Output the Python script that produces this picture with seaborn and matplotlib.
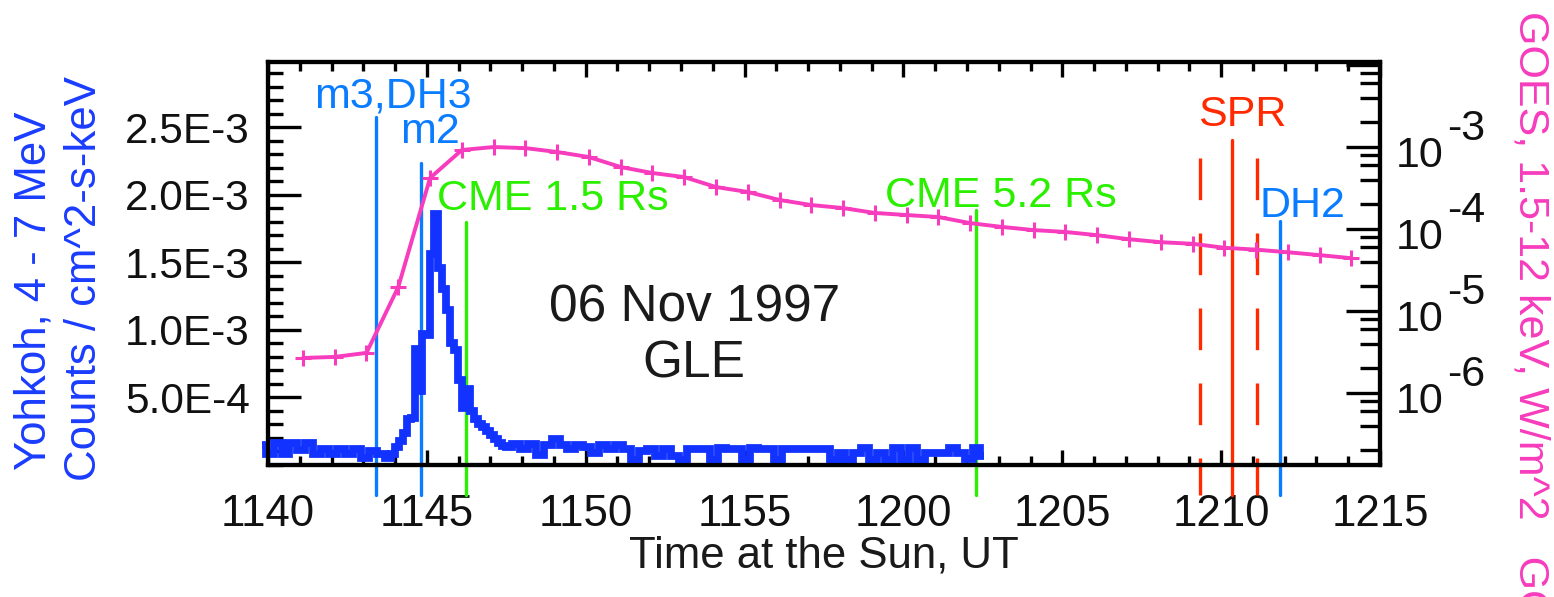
import numpy as np
import pandas as pd
import matplotlib
matplotlib.use("Agg")
import matplotlib.pyplot as plt
import matplotlib.ticker as mticker
import seaborn as sns

# ---------------- data ----------------
# time axis: minutes after 11:40 UT
x_tick_minutes = [0, 5, 10, 15, 20, 25, 30, 35]
x_tick_labels = ["1140", "1145", "1150", "1155", "1200", "1205", "1210", "1215"]
y_tick_values = [5e-4, 1e-3, 1.5e-3, 2e-3, 2.5e-3]
y_tick_labels = ["5.0E-4", "1.0E-3", "1.5E-3", "2.0E-3", "2.5E-3"]
goes_label_decades = [-3, -4, -5, -6]

# event times (minutes after 11:40)
t_m3_dh3 = 3.40
t_m2 = 4.82
t_cme15 = 6.23
t_cme52 = 22.28
t_spr = 30.34
t_spr_lo = 29.33
t_spr_hi = 31.13
t_dh2 = 31.85

# Yohkoh GRS 4-7 MeV counts (units of 1e-4 counts / cm^2-s-keV)
yoh_pre_t = np.linspace(-0.2, 3.8, 17)
yoh_pre = [1.5, 0.8, 1.6, 0.8, 1.6, 1.1, 1.6, 0.8, 1.2, 0.8, 1.2, 0.8, 1.2, 0.5, 1.0, 0.8, 0.5]
yoh_peak_t = np.linspace(3.925, 7.55, 30)
yoh_peak = [0.8, 1.3, 1.8, 2.4, 3.4, 3.5, 8.6, 5.5, 9.7, 9.6,
            15.6, 18.6, 14.6, 13.0, 11.5, 9.0, 8.5, 6.3, 4.2, 5.6,
            4.0, 3.4, 3.0, 2.8, 2.5, 2.2, 1.9, 1.6, 1.4, 1.3]
yoh_post_t = np.linspace(7.8, 22.55, 60)
yoh_post = [1.55, 1.2, 1.55, 0.75, 1.5, 1.9, 1.5, 1.2, 1.5, 1.3,
            0.9, 1.5, 1.2, 1.5, 1.2, 0.4, 1.0, 1.2, 0.65, 1.2,
            0.65, 0.4, 1.2, 1.2, 1.2, 0.4, 1.25, 1.2, 1.2, 0.4,
            1.25, 1.2, 1.2, 0.4, 1.2, 1.2, 1.2, 1.2, 1.2, 1.2,
            0.4, 0.9, 0.4, 0.9, 1.25, 0.4, 0.9, 0.4, 1.25, 0.4,
            1.25, 0.4, 0.9, 0.9, 0.9, 1.25, 0.9, 0.45, 1.25, 0.7]

# GOES 1.5-12 keV flux, W/m^2, one-minute points
goes_t = [1.1, 2.1, 3.1, 4.1, 5.1, 6.1, 7.1, 8.1, 9.1, 10.1, 11.1, 12.1,
          13.1, 14.1, 15.1, 16.1, 17.1, 18.1, 19.1, 20.1, 21.1, 22.1, 23.1,
          24.1, 25.1, 26.1, 27.1, 28.1, 29.1, 30.1, 31.1, 32.1, 33.1, 34.1]
goes_flux = [2.67e-6, 2.75e-6, 3.08e-6, 1.96e-5, 4.19e-4, 9.2e-4, 1.0e-3, 9.7e-4,
             8.7e-4, 7.55e-4, 5.7e-4, 4.82e-4, 4.3e-4, 3.25e-4, 2.83e-4, 2.26e-4,
             1.96e-4, 1.8e-4, 1.57e-4, 1.48e-4, 1.40e-4, 1.18e-4, 1.06e-4, 9.7e-5,
             9.2e-5, 8.4e-5, 7.5e-5, 6.9e-5, 6.6e-5, 5.9e-5, 5.6e-5, 5.2e-5,
             4.8e-5, 4.4e-5]

# ---------------- style ----------------
sns.set_theme(style="white")
plt.rcParams["font.family"] = ["Liberation Sans", "DejaVu Sans"]
plt.rcParams["lines.scale_dashes"] = False

C_BLUE_DATA = "#1233ff"
C_EVENT_BLUE = "#0a7cff"
C_GREEN = "#2af000"
C_RED = "#ff2a00"
C_PINK = "#f73cbd"
C_TEXT = "#111111"

fig = plt.figure(figsize=(15.54, 5.97), dpi=100)
fig.patch.set_facecolor("white")
ax = fig.add_axes([268 / 1554, 132 / 597, 1112 / 1554, 403 / 597])
ax2 = ax.twinx()

# ---------------- Yohkoh (left axis) ----------------
yoh = pd.DataFrame({
    "t": np.concatenate([yoh_pre_t, yoh_peak_t, yoh_post_t]),
    "c": np.concatenate([yoh_pre, yoh_peak, yoh_post]) * 1e-4,
})
sns.lineplot(data=yoh, x="t", y="c", ax=ax, color=C_BLUE_DATA, lw=5.6,
             drawstyle="steps-mid", clip_on=False, legend=False,
             solid_joinstyle="miter", solid_capstyle="butt", zorder=3)

ax.set_xlim(0, 35)
ax.set_ylim(0, 2.985e-3)

# ---------------- event lines ----------------
xt = ax.get_xaxis_transform()
bottom = -0.0744
lw_ev = 2.4
ax.plot([t_m3_dh3, t_m3_dh3], [0.8635, bottom], transform=xt, color=C_EVENT_BLUE, lw=lw_ev, clip_on=False, zorder=2)
ax.plot([t_m2, t_m2], [0.749, bottom], transform=xt, color=C_EVENT_BLUE, lw=lw_ev, clip_on=False, zorder=2)
ax.plot([t_cme15, t_cme15], [0.603, bottom], transform=xt, color=C_GREEN, lw=lw_ev, clip_on=False, zorder=2)
ax.plot([t_cme52, t_cme52], [0.633, bottom], transform=xt, color=C_GREEN, lw=lw_ev, clip_on=False, zorder=2)
ax.plot([t_spr, t_spr], [0.806, bottom], transform=xt, color=C_RED, lw=lw_ev, clip_on=False, zorder=2)
for tt in (t_spr_lo, t_spr_hi):
    ax.plot([tt, tt], [0.762, bottom], transform=xt, color=C_RED, lw=lw_ev,
            dashes=(30, 24), clip_on=False, zorder=2)
ax.plot([t_dh2, t_dh2], [0.605, bottom], transform=xt, color=C_EVENT_BLUE, lw=lw_ev, clip_on=False, zorder=2)

# ---------------- annotations ----------------
fs_ann = 31
ax.text(3.92, 0.886, "m3,DH3", transform=xt, ha="center", va="baseline", color=C_EVENT_BLUE, fontsize=fs_ann)
ax.text(5.1, 0.799, "m2", transform=xt, ha="center", va="baseline", color=C_EVENT_BLUE, fontsize=fs_ann)
ax.text(5.32, 0.633, "CME 1.5 Rs", transform=xt, ha="left", va="baseline", color=C_GREEN, fontsize=fs_ann)
ax.text(19.42, 0.640, "CME 5.2 Rs", transform=xt, ha="left", va="baseline", color=C_GREEN, fontsize=fs_ann)
ax.text(29.27, 0.841, "SPR", transform=xt, ha="left", va="baseline", color=C_RED, fontsize=fs_ann)
ax.text(31.22, 0.615, "DH2", transform=xt, ha="left", va="baseline", color=C_EVENT_BLUE, fontsize=fs_ann)
ax.text(13.44, 0.355, "06 Nov 1997", transform=xt, ha="center", va="baseline", color="#1a1a1a", fontsize=37)
ax.text(13.40, 0.218, "GLE", transform=xt, ha="center", va="baseline", color="#1a1a1a", fontsize=37)

# ---------------- GOES (right axis, log) ----------------
ax2.set_yscale("log")
goes = pd.DataFrame({"t": goes_t, "f": goes_flux})
sns.lineplot(data=goes, x="t", y="f", ax=ax2, color=C_PINK, lw=2.8, marker="+",
             markersize=11, markeredgewidth=2.2, markeredgecolor=C_PINK, legend=False, zorder=4)
ax2.set_ylim(1.32e-7, 1.09e-2)
ax2.set_xlim(0, 35)
ax2.set_ylabel("")
ax2.set_xlabel("")

# ---------------- axes / ticks ----------------
for a in (ax, ax2):
    for s in a.spines.values():
        s.set_visible(True)
        s.set_linewidth(3.0)
        s.set_color("black")

ax.xaxis.set_major_locator(mticker.FixedLocator(x_tick_minutes))
ax.xaxis.set_major_formatter(mticker.FixedFormatter(x_tick_labels))
ax.xaxis.set_minor_locator(mticker.MultipleLocator(1))
ax.yaxis.set_major_locator(mticker.FixedLocator(y_tick_values))
ax.yaxis.set_major_formatter(mticker.FixedFormatter(y_tick_labels))
ax.yaxis.set_minor_locator(mticker.MultipleLocator(1e-4))

ax.tick_params(axis="x", which="major", direction="in", length=10.8, width=2.4,
               top=True, bottom=True, pad=21, labelsize=31.5, labelcolor=C_TEXT, color="black")
ax.tick_params(axis="x", which="minor", direction="in", length=6.5, width=2.4,
               top=True, bottom=True, color="black")
ax.tick_params(axis="y", which="major", direction="in", length=24, width=2.4,
               left=True, right=False, pad=13, labelsize=30.5, labelcolor=C_TEXT, color="black")
ax.tick_params(axis="y", which="minor", direction="in", length=11, width=2.4,
               left=True, right=False, color="black")

ax2.yaxis.set_major_locator(mticker.FixedLocator([10.0 ** d for d in range(-7, -1)]))
ax2.yaxis.set_minor_locator(mticker.LogLocator(base=10, subs=(2, 4, 6, 8)))
ax2.yaxis.set_major_formatter(mticker.NullFormatter())
ax2.yaxis.set_minor_formatter(mticker.NullFormatter())
ax2.tick_params(axis="y", which="major", direction="in", length=24.5, width=2.4,
                right=True, left=False, labelright=False, color="black")
ax2.tick_params(axis="y", which="minor", direction="in", length=14.4, width=2.4,
                right=True, left=False, color="black")

# right tick labels: "10" with full-size raised exponent
for d in goes_label_decades:
    ax2.annotate("10", xy=(1.0, 10.0 ** d), xycoords=("axes fraction", "data"),
                 xytext=(11.5, -6.5), textcoords="offset points", ha="left", va="center",
                 fontsize=31, color=C_TEXT, annotation_clip=False)
    ax2.annotate("-%d" % (-d), xy=(1.0, 10.0 ** d), xycoords=("axes fraction", "data"),
                 xytext=(48.5, 13), textcoords="offset points", ha="left", va="center",
                 fontsize=31, color=C_TEXT, annotation_clip=False)

# axis titles
ax.set_xlabel("Time at the Sun, UT", fontsize=31.5, color="#1a1a1a")
ax.xaxis.set_label_coords(0.5, -0.176)
ax.set_ylabel("")
fig.text(34 / 1554, 1 - 291 / 597, "Yohkoh, 4 - 7 MeV", rotation=90, ha="center", va="center",
         fontsize=31.5, color="#1a3cff")
fig.text(85 / 1554, 1 - 279 / 597, "Counts / cm^2-s-keV", rotation=90, ha="center", va="center",
         fontsize=31.5, color="#1a3cff")
fig.text(1531 / 1554, 1 - 11 / 597, "GOES, 1.5-12 keV, W/m^2   GOES", rotation=-90, ha="center",
         va="top", fontsize=31, color=C_PINK)

ax.set_zorder(1)
ax2.set_zorder(2)
ax2.patch.set_visible(False)

fig.savefig("out.png", dpi=100)
